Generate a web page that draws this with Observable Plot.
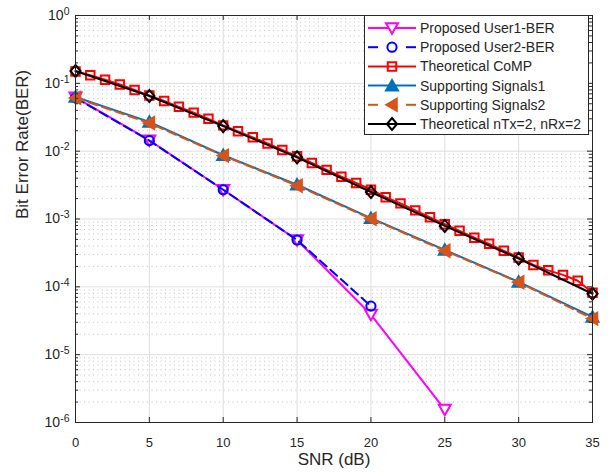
<!DOCTYPE html>
<html><head><meta charset="utf-8">
<script src="https://cdn.jsdelivr.net/npm/d3@7"></script>
<script src="https://cdn.jsdelivr.net/npm/@observablehq/plot@0.6"></script>
<style>
body{margin:0;background:#fff;}
#wrap{position:relative;width:613px;height:474px;font-family:"Liberation Sans",Arial,Helvetica,sans-serif;}
#legend{position:absolute;left:364px;top:15px;}
</style></head><body><div id="wrap"></div>
<script>
// ---- data ----
const snrCoarse = [0, 5, 10, 15, 20, 25, 30, 35];
const snrUser1 = [0, 5, 10, 15, 20, 25];
const snrUser2 = [0, 5, 10, 15, 20];
const snrFine = [0,1,2,3,4,5,6,7,8,9,10,11,12,13,14,15,16,17,18,19,20,21,22,23,24,25,26,27,28,29,30,31,32,33,34,35];
const berUser1 = [0.062, 0.0145, 0.0027, 0.00049, 0.000039, 0.00000155];
const berUser2 = [0.061, 0.0143, 0.0027, 0.00049, 0.000052];
const berCoMP = [0.150, 0.132, 0.113, 0.096, 0.080, 0.066, 0.055, 0.045, 0.037, 0.030, 0.024, 0.0196, 0.0160, 0.0130, 0.0104, 0.0084, 0.0067, 0.0053, 0.0042, 0.0034, 0.0027, 0.0021, 0.0017, 0.00134, 0.00106, 0.00084, 0.00067, 0.00053, 0.00043, 0.00034, 0.00027, 0.00021, 0.000175, 0.000150, 0.000123, 0.000082];
const berSupport1 = [0.063, 0.027, 0.0087, 0.0032, 0.00103, 0.00035, 0.000118, 0.000036];
const berSupport2 = [0.061, 0.026, 0.0086, 0.0031, 0.00101, 0.00034, 0.000117, 0.000034];
const berNTx2 = [0.152, 0.065, 0.0234, 0.0081, 0.0025, 0.00079, 0.00026, 0.000079];
const seriesNames = ["Proposed User1-BER", "Proposed User2-BER", "Theoretical CoMP", "Supporting Signals1", "Supporting Signals2", "Theoretical nTx=2, nRx=2"];
const xTicks = [0, 5, 10, 15, 20, 25, 30, 35];
const yTicks = [1e-6, 1e-5, 1e-4, 1e-3, 1e-2, 1e-1, 1];
const yExponents = ["-6", "-5", "-4", "-3", "-2", "-1", "0"];
const xLabel = "SNR (dB)";
const yLabel = "Bit Error Rate(BER)";

// ---- symbols ----
const triDown = {draw(c, s){const r=Math.sqrt(s/Math.PI); c.moveTo(-r,-0.8*r); c.lineTo(r,-0.8*r); c.lineTo(0,0.95*r); c.closePath();}};
const triUp = {draw(c, s){const r=Math.sqrt(s/Math.PI); c.moveTo(0,-0.95*r); c.lineTo(r,0.8*r); c.lineTo(-r,0.8*r); c.closePath();}};
const triLeft = {draw(c, s){const r=Math.sqrt(s/Math.PI); c.moveTo(-0.95*r,0); c.lineTo(0.8*r,-r); c.lineTo(0.8*r,r); c.closePath();}};
const diamond = {draw(c, s){const r=Math.sqrt(s/Math.PI); c.moveTo(0,-r); c.lineTo(0.85*r,0); c.lineTo(0,r); c.lineTo(-0.85*r,0); c.closePath();}};
const square = {draw(c, s){const r=Math.sqrt(s/Math.PI)*0.8; c.rect(-r,-r,2*r,2*r);}};
const circle = {draw(c, s){const r=Math.sqrt(s/Math.PI); c.moveTo(r,0); c.arc(0,0,r,0,2*Math.PI);}};

const rows = (xs, ys) => xs.map((x, i) => ({snr: x, ber: ys[i]}));
const series = [
  {name: seriesNames[0], data: rows(snrUser1, berUser1), color: "#FF00FF", dash: null, sym: triDown, r: 6, fill: "white", sw: 2},
  {name: seriesNames[1], data: rows(snrUser2, berUser2), color: "#0000FF", dash: "9,5", sym: circle, r: 4.6, fill: "none", sw: 2},
  {name: seriesNames[2], data: rows(snrFine, berCoMP), color: "#FF0000", dash: null, sym: square, r: 5.3, fill: "none", sw: 2},
  {name: seriesNames[3], data: rows(snrCoarse, berSupport1), color: "#0072BD", dash: null, sym: triUp, r: 6, fill: "#0072BD", sw: 2},
  {name: seriesNames[4], data: rows(snrCoarse, berSupport2), color: "#D95319", dash: "9,5", sym: triLeft, r: 6, fill: "#D95319", sw: 2},
  {name: seriesNames[5], data: rows(snrCoarse, berNTx2), color: "#000000", dash: null, sym: diamond, r: 6, fill: "none", sw: 2}
];

const W = 613, H = 474, mt = 15, mr = 21, mb = 52, ml = 75;
const pw = W - ml - mr, ph = H - mt - mb;
const yMinor = yTicks.slice(0, -1).flatMap(d => [2,3,4,5,6,7,8,9].map(k => d * k));
const ink = "#262626";

const marks = [
  Plot.ruleY(yMinor, {y: d => d, stroke: "#b5b5b5", strokeWidth: 0.8, strokeDasharray: "1,3.5"}),
  Plot.ruleY(yTicks, {y: d => d, stroke: "#dedede", strokeWidth: 1}),
  Plot.ruleX(xTicks, {x: d => d, stroke: "#dedede", strokeWidth: 1}),
];
for (const s of series) {
  marks.push(Plot.line(s.data, {x: "snr", y: "ber", stroke: s.color, strokeWidth: 2, strokeDasharray: s.dash}));
  marks.push(Plot.dot(s.data, {x: "snr", y: "ber", symbol: s.sym, r: s.r, stroke: s.color, fill: s.fill, strokeWidth: s.sw}));
}
marks.push(
  // inside tick marks (MATLAB style box)
  Plot.ruleX(xTicks, {x: d => d, stroke: ink, insetTop: ph - 5}),
  Plot.ruleX(xTicks, {x: d => d, stroke: ink, insetBottom: ph - 5}),
  Plot.ruleY(yTicks, {y: d => d, stroke: ink, insetRight: pw - 5}),
  Plot.ruleY(yTicks, {y: d => d, stroke: ink, insetLeft: pw - 5}),
  Plot.ruleY(yMinor, {y: d => d, stroke: ink, insetRight: pw - 3}),
  Plot.ruleY(yMinor, {y: d => d, stroke: ink, insetLeft: pw - 3}),
  Plot.frame({stroke: ink, strokeWidth: 1}),
  Plot.axisX({ticks: xTicks, tickSize: 0, tickPadding: 15, fontSize: 13, label: null, tickFormat: d => String(d), fill: ink}),
  Plot.axisY({ticks: yTicks, tickSize: 0, tickPadding: 6, fontSize: 14, label: null, fill: ink,
    tickFormat: d => "10^" + yExponents[yTicks.findIndex(t => Math.abs(t - d) / t < 1e-6)]}),
  Plot.text([xLabel], {text: d => d, frameAnchor: "bottom", dy: 42, fontSize: 17, fill: ink}),
  Plot.text([yLabel], {text: d => d, frameAnchor: "left", rotate: -90, dx: -53, fontSize: 17, fill: ink})
);

const chart = Plot.plot({
  width: W, height: H, marginTop: mt, marginRight: mr, marginBottom: mb, marginLeft: ml,
  x: {domain: [0, 35]},
  y: {type: "log", domain: [1e-6, 1]},
  style: {fontFamily: '"Liberation Sans", Arial, Helvetica, sans-serif', background: "white", color: ink, overflow: "visible"},
  marks
});

// superscript exponents on y tick labels
chart.querySelectorAll('[aria-label="y-axis tick label"] text').forEach(t => {
  const s = t.textContent; const [b, e] = s.split("^");
  if (e === undefined) return;
  t.textContent = "";
  const ns = "http://www.w3.org/2000/svg";
  const t1 = document.createElementNS(ns, "tspan"); t1.textContent = b;
  const t2 = document.createElementNS(ns, "tspan"); t2.textContent = e;
  t2.setAttribute("dy", "-0.5em"); t2.setAttribute("font-size", "10.5px");
  t.appendChild(t1); t.appendChild(t2);
});

const wrap = document.getElementById("wrap");
wrap.appendChild(chart);

// ---- legend (inside the axes, top-right) ----
const LW = 225, LH = 120, rowH = 19.2;
const lg = d3.select(wrap).append("svg").attr("id", "legend").attr("width", LW).attr("height", LH)
  .style("font-family", '"Liberation Sans", Arial, Helvetica, sans-serif');
lg.append("rect").attr("x", 0.5).attr("y", 0.5).attr("width", LW - 1).attr("height", LH - 1)
  .attr("fill", "white").attr("stroke", ink).attr("stroke-width", 1);
series.forEach((s, i) => {
  const y = 13 + i * rowH;
  const g = lg.append("g");
  if (s.dash) {
    g.append("line").attr("x1", 4).attr("x2", 14).attr("y1", y).attr("y2", y).attr("stroke", s.color).attr("stroke-width", 2);
    g.append("line").attr("x1", 42).attr("x2", 52).attr("y1", y).attr("y2", y).attr("stroke", s.color).attr("stroke-width", 2);
  } else {
    g.append("line").attr("x1", 4).attr("x2", 52).attr("y1", y).attr("y2", y).attr("stroke", s.color).attr("stroke-width", 2);
  }
  g.append("path").attr("d", d3.symbol(s.sym, s.r * s.r * Math.PI)())
    .attr("transform", `translate(28,${y})`).attr("stroke", s.color).attr("stroke-width", s.sw)
    .attr("fill", s.fill);
  g.append("text").attr("x", 56).attr("y", y).attr("dy", "0.35em").attr("font-size", 14).attr("fill", ink).text(s.name);
});
</script>
</body></html>
